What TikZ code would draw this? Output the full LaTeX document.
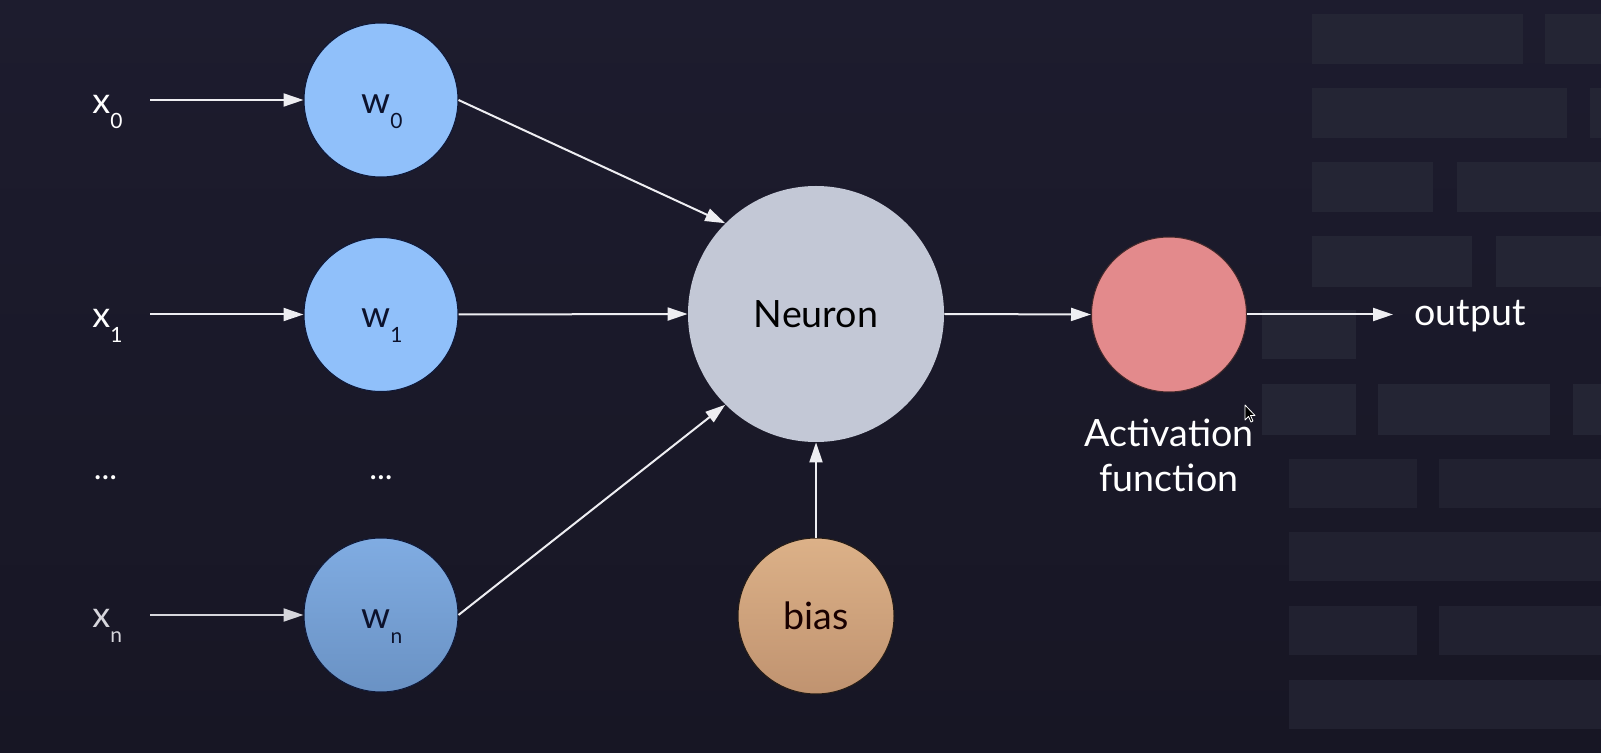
\documentclass[tikz,border=0pt]{standalone}
\usepackage{fontspec}
\setmainfont{Lato}
\usetikzlibrary{arrows.meta}
\definecolor{bgtop}{RGB}{29,28,46}
\definecolor{bgbot}{RGB}{23,22,36}
\definecolor{blockc}{RGB}{36,37,52}
\definecolor{blockd}{RGB}{33,33,48}
\definecolor{arrowc}{RGB}{238,238,242}
\definecolor{wblue}{RGB}{144,192,250}
\definecolor{wntop}{RGB}{128,172,226}
\definecolor{wnbot}{RGB}{106,146,196}
\definecolor{neuronc}{RGB}{195,200,214}
\definecolor{actc}{RGB}{227,138,140}
\definecolor{biastop}{RGB}{220,177,136}
\definecolor{biasbot}{RGB}{192,147,112}
\definecolor{inktext}{RGB}{12,18,44}
\definecolor{edgec}{RGB}{14,24,56}
\definecolor{greyl}{RGB}{214,214,220}
\newcommand\lowsub[1]{\raisebox{-7.5pt}{\fontsize{10.5}{12}\selectfont #1}}
\begin{document}
\begin{tikzpicture}[x=0.5pt,y=-0.5pt,
  arr/.style={draw=arrowc, line width=1pt, -{Triangle[length=10pt,width=6.5pt]}},
  wcirc/.style={circle, minimum size=77pt, inner sep=0pt, fill=wblue, draw=edgec, line width=0.5pt},
  lab/.style={text=white, font=\fontsize{18}{22}\selectfont, inner sep=0pt},
  dots/.style={text=white, font=\fontsize{16.5}{20}\selectfont, inner sep=0pt},
  wlab/.style={text=inktext, font=\fontsize{18.5}{22}\selectfont, inner sep=0pt},
  big/.style={font=\fontsize{18.8}{22.5}\selectfont, inner sep=0pt}]
\useasboundingbox (0,0) rectangle (1601,753);
\shade[top color=bgtop, bottom color=bgbot] (0,0) rectangle (1601,753);
% background blocks
\foreach \ya/\yb/\xa/\xb in {
  14.4/63.9/1311.7/1523.3, 14.4/63.9/1545/1601,
  87.9/138.3/1311.7/1566.7, 87.9/138.3/1590/1601,
  161.9/212.3/1311.7/1433.3, 161.9/212.3/1456.7/1601,
  236.3/286.7/1311.7/1472.3, 236.3/286.7/1495.7/1601,
  310.5/359.3/1261.7/1355.7,
  384.2/434.7/1261.7/1355.7, 384.2/434.7/1378.3/1550, 384.2/434.7/1573.3/1601}
  \fill[blockc] (\xa,\ya) rectangle (\xb,\yb);
\foreach \ya/\yb/\xa/\xb in {
  458.7/507.7/1289.3/1416.7, 458.7/507.7/1439/1601,
  531.7/581.2/1289.3/1601,
  606.1/654.7/1289.3/1416.7, 606.1/654.7/1439/1601,
  679.6/729/1289.3/1601}
  \fill[blockd] (\xa,\ya) rectangle (\xb,\yb);
% input labels
\node[lab, anchor=base west] (x0) at (92,113.3) {x\lowsub{0}};
\node[lab, anchor=base west] (x1) at (92,327.8) {x\lowsub{1}};
\node[lab, anchor=base west, text=greyl] (xn) at (92,627.7) {x\lowsub{n}};
\node[dots, anchor=base] (xdots) at (105.5,480) {...};
\node[dots, anchor=base] (wdots) at (381,480) {...};
% weight circles
\node[wcirc] (w0) at (381,100) {};
\node[wcirc] (w1) at (381,314.5) {};
\node[wcirc, shade, top color=wntop, bottom color=wnbot] (wn) at (381,615) {};
\node[wlab, anchor=base] (w0t) at ([xshift=0.5pt,yshift=-6.65pt]w0.center) {w\lowsub{0}};
\node[wlab, anchor=base] (w1t) at ([xshift=0.5pt,yshift=-6.65pt]w1.center) {w\lowsub{1}};
\node[wlab, anchor=base] (wnt) at ([xshift=0.5pt,yshift=-6.65pt]wn.center) {w\lowsub{n}};
% neuron, bias, activation
\node[circle, minimum size=128pt, inner sep=0pt, fill=neuronc, big, text=black] (neuron) at (816,314) {Neuron};
\node[circle, minimum size=78pt, inner sep=0pt, shade, top color=biastop, bottom color=biasbot, draw=black!80!biasbot, line width=0.5pt, big, text=black!90!red] (bias) at (816,616) {bias};
\node[circle, minimum size=77.5pt, inner sep=0pt, fill=actc, draw=black!70!actc, line width=0.5pt] (act) at (1169,314.5) {};
\node[big, text=white, align=center, anchor=north] (actlab) at (1169,419) {Activation\\function};
\node[big, text=white, anchor=base west] (out) at (1414,326) {output};
% connectors
\coordinate (a0) at (150,100);
\coordinate (a1) at (150,314.5);
\coordinate (an) at (150,615);
\coordinate (outtip) at (1393,314.5);
\draw[arr] (a0) -- (w0.west);
\draw[arr] (a1) -- (w1.west);
\draw[arr, draw=greyl] (an) -- (wn.west);
\draw[arr] (w0.east) -- (neuron.135);
\draw[arr] (w1.east) -- (neuron.west);
\draw[arr] (wn.east) -- (neuron.225);
\draw[arr] (bias.north) -- (neuron.south);
\draw[arr] (neuron.east) -- (act.west);
\draw[arr] (act.east) -- (outtip);
% mouse cursor
\draw[fill=black, draw=white, line width=0.4pt, line join=round]
  (1245,405) -- (1245,420) -- (1248.5,416.5) -- (1251,422) -- (1253,421) -- (1250.5,415.5) -- (1255,415.5) -- cycle;
\end{tikzpicture}
\end{document}
